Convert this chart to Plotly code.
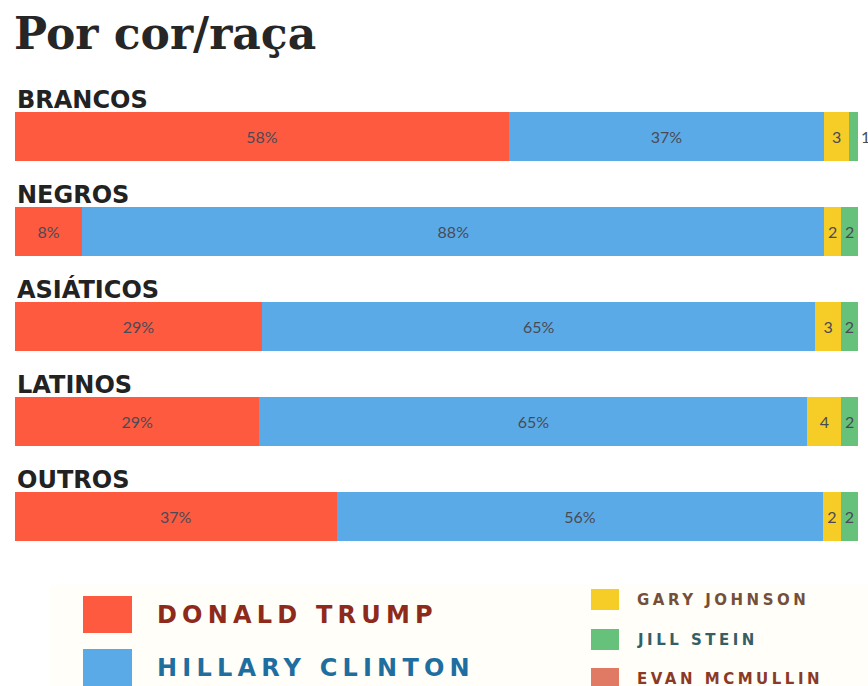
import plotly.graph_objects as go

# Vote share by race/ethnicity (%)
groups = ["BRANCOS", "NEGROS", "ASIÁTICOS", "LATINOS", "OUTROS"]
trump = [58, 8, 29, 29, 37]
clinton = [37, 88, 65, 65, 56]
johnson = [3, 2, 3, 4, 2]
stein = [1, 2, 2, 2, 2]

candidates = ["DONALD TRUMP", "HILLARY CLINTON", "GARY JOHNSON", "JILL STEIN", "EVAN MCMULLIN"]
colors = ["#FE5A40", "#5AAAE8", "#F5CD26", "#66C27A", "#E07A64"]
legend_text_colors = ["#8E2A1C", "#1F6EA0", "#74503A", "#355E66", "#8A3A26"]

W, H = 868, 686
ML, MR, MT, MB = 15, 10, 89, 122
PW, PH = W - ML - MR, H - MT - MB


def px(x):
    return (x - ML) / PW


def py(y):
    return (H - MB - y) / PH


def spaced(txt, gap):
    return f'<span style="letter-spacing:{gap}px">{txt}</span>'


fig = go.Figure()

series = [trump, clinton, johnson, stein]
for name, vals, col in zip(candidates[:4], series, colors[:4]):
    short = name in ("GARY JOHNSON", "JILL STEIN")
    texts = [str(v) if short else f"{v}%" for v in vals]
    positions = ["inside"] * len(vals)
    if name == "JILL STEIN":
        positions = ["outside" if v < 2 else "inside" for v in vals]
    fig.add_trace(go.Bar(
        y=groups, x=vals, orientation="h", name=name,
        marker=dict(color=col, line=dict(width=0)),
        text=texts, textposition=positions,
        insidetextanchor="middle",
        textfont=dict(family="Lato", size=16, color="#4A4A55"),
        outsidetextfont=dict(family="Lato", size=16, color="#4A4A55"),
        cliponaxis=False,
        showlegend=False,
    ))

annotations = []
shapes = []

# Title
annotations.append(dict(
    text="<b>Por cor/raça</b>", xref="paper", yref="paper",
    x=px(12), y=py(6), xanchor="left", yanchor="top", showarrow=False,
    font=dict(family="DejaVu Serif", size=44, color="#262626"),
))

# Group headings above each bar
for g in groups:
    annotations.append(dict(
        text=f"<b>{g}</b>", xref="paper", yref="y", x=0, y=g,
        xanchor="left", yanchor="bottom", yshift=21, showarrow=False,
        font=dict(family="DejaVu Sans", size=24, color="#222222"),
    ))

# Legend panel
shapes.append(dict(type="rect", xref="paper", yref="paper",
                   x0=px(50), x1=px(868), y0=py(585), y1=py(700),
                   fillcolor="#FFFEF8", line=dict(width=0), layer="below"))

# Main candidates: large swatches
big = [(596, 0), (649, 1)]
for top, i in big:
    shapes.append(dict(type="rect", xref="paper", yref="paper",
                       x0=px(83), x1=px(132), y0=py(top), y1=py(top + 37),
                       fillcolor=colors[i], line=dict(width=0)))
    annotations.append(dict(
        text=f"<b>{spaced(candidates[i], 5.2)}</b>", xref="paper", yref="paper",
        x=px(155), y=py(top + 18.5), xanchor="left", yanchor="middle",
        showarrow=False,
        font=dict(family="DejaVu Sans", size=24, color=legend_text_colors[i]),
    ))

# Other candidates: small swatches
small = [(589, 2), (629, 3), (668, 4)]
for top, i in small:
    shapes.append(dict(type="rect", xref="paper", yref="paper",
                       x0=px(591), x1=px(619), y0=py(top), y1=py(top + 21),
                       fillcolor=colors[i], line=dict(width=0)))
    annotations.append(dict(
        text=f"<b>{spaced(candidates[i], 3.5)}</b>", xref="paper", yref="paper",
        x=px(635), y=py(top + 11), xanchor="left", yanchor="middle",
        showarrow=False,
        font=dict(family="DejaVu Sans", size=15, color=legend_text_colors[i]),
    ))

fig.update_layout(
    width=W, height=H,
    margin=dict(l=ML, r=MR, t=MT, b=MB),
    barmode="stack", barnorm="percent", bargap=0.48,
    paper_bgcolor="#FFFFFF", plot_bgcolor="rgba(0,0,0,0)",
    uniformtext=dict(minsize=15, mode="show"),
    xaxis=dict(range=[0, 100], visible=False, fixedrange=True),
    yaxis=dict(categoryorder="array", categoryarray=groups,
               range=[4.5, -0.5], visible=False, fixedrange=True),
    annotations=annotations, shapes=shapes,
    showlegend=False,
)

fig.write_html("out.html")
